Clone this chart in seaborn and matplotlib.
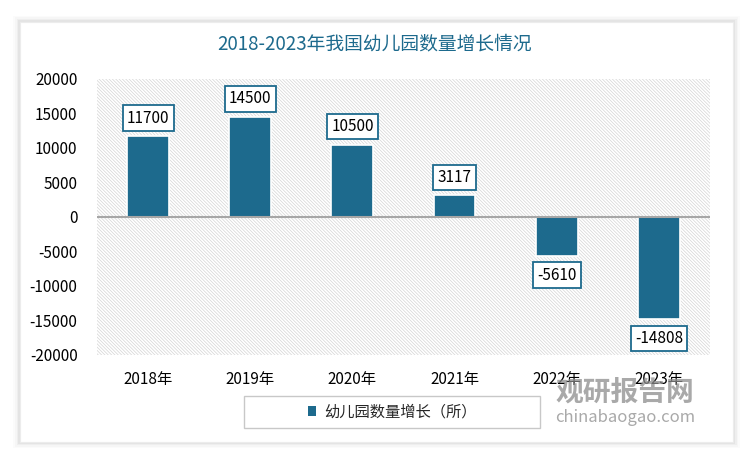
import matplotlib.pyplot as plt
import seaborn as sns
import pandas as pd
from matplotlib.patches import Rectangle

years = ["2018年", "2019年", "2020年", "2021年", "2022年", "2023年"]
growth = [11700, 14500, 10500, 3117, -5610, -14808]
series_name = "幼儿园数量增长（所）"
title = "2018-2023年我国幼儿园数量增长情况"

bar_color = "#1d6a8d"
title_color = "#1d6a8d"

sns.set_theme(style="white")
plt.rcParams['font.family'] = ['Noto Sans CJK SC', 'DejaVu Sans']
plt.rcParams['axes.unicode_minus'] = False
plt.rcParams['hatch.color'] = '#d4d4d4'
plt.rcParams['hatch.linewidth'] = 0.5

df = pd.DataFrame({"year": years, "growth": growth})

fig = plt.figure(figsize=(7.5, 4.59), dpi=100)
fig.patch.set_facecolor("white")

# card with soft shadow
for i, a in enumerate([0.015, 0.02, 0.03, 0.04]):
    d = (4 - i) * 0.0022
    fig.patches.append(Rectangle((0.0267 - d, 0.037 - d * 1.6), 0.951 + 2 * d, 0.915 + 2 * d * 1.6,
                                 transform=fig.transFigure, facecolor="black", alpha=a,
                                 edgecolor="none", zorder=0))
fig.patches.append(Rectangle((0.0267, 0.037), 0.951, 0.915, transform=fig.transFigure,
                             facecolor="white", edgecolor="#ececec", lw=0.8, zorder=0))

ax = fig.add_axes([0.1293, 0.2266, 0.8173, 0.6013])
ax.set_zorder(2)
ax.set_facecolor("white")
ax.patch.set_hatch("\\" * 10)
ax.patch.set_edgecolor("#d4d4d4")
ax.patch.set_linewidth(0)

sns.barplot(data=df, x="year", y="growth", color=bar_color, width=0.41,
            edgecolor="white", linewidth=1.2, saturation=1, ax=ax, zorder=3)

ax.set_ylim(-20000, 20000)
ax.set_yticks(range(-20000, 20001, 5000))
ax.set_xlim(-0.5, len(years) - 0.5)
ax.axhline(0, color="#a6a6a6", lw=1.5, zorder=4)
for s in ax.spines.values():
    s.set_visible(False)
ax.tick_params(axis="y", labelsize=11, colors="#000000", length=0, pad=14)
ax.set_xlabel("")
ax.set_ylabel("")

# x tick labels placed under the plot area
ax.set_xticks(range(len(years)))
ax.set_xticklabels([])
ax.tick_params(axis="x", length=0)
for i, y in enumerate(years):
    ax.annotate(y, xy=(i, -20000), xytext=(0, -18), textcoords="offset points",
                ha="center", va="center", fontsize=11, color="#000000", annotation_clip=False)

for i, v in enumerate(growth):
    off = 13 if v > 0 else -14
    ax.annotate(str(v), xy=(i, v), xytext=(0, off), textcoords="offset points",
                ha="center", va="center", fontsize=11, color="#000000", zorder=6,
                bbox=dict(boxstyle="square,pad=0.28", fc="white", ec=bar_color, lw=1.3))

fig.text(0.5, 0.905, title, ha="center", va="center", fontsize=13.5, color=title_color)

# legend: wide frame drawn separately, entry centred in it
fig.patches.append(Rectangle((0.3253, 0.0675), 0.3947, 0.0697, transform=fig.transFigure,
                             facecolor="white", edgecolor="#c8c8c8", lw=1, zorder=3))
handle = Rectangle((0, 0), 1, 1, facecolor=bar_color, edgecolor="none")
leg = fig.legend([handle], [series_name], loc="center", bbox_to_anchor=(0.523, 0.1024),
                 frameon=False, fontsize=11, handlelength=0.55, handleheight=0.55,
                 borderaxespad=0, handletextpad=0.5)
leg.set_zorder(5)

# watermark
fig.text(0.833, 0.144, "观研报告网", ha="center", va="center", fontsize=20,
         fontweight="bold", color="#8c8c8c", alpha=0.75, zorder=10)
fig.text(0.833, 0.091, "chinabaogao.com", ha="center", va="center", fontsize=12,
         color="#8c8c8c", alpha=0.75, zorder=10)

fig.savefig("out.png", dpi=100)
